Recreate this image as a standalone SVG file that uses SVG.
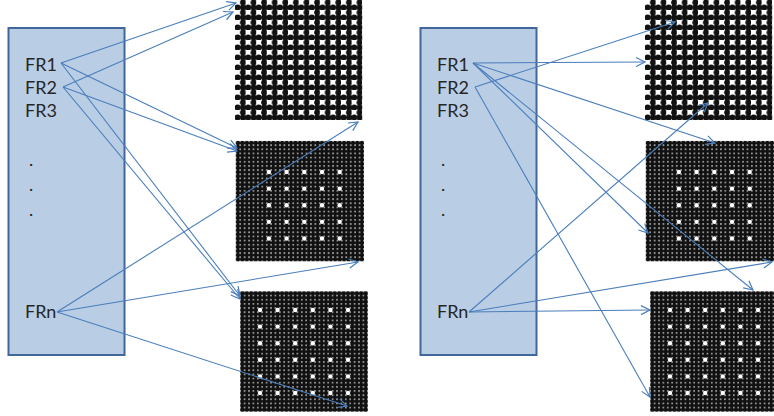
<svg xmlns="http://www.w3.org/2000/svg" xmlns:xlink="http://www.w3.org/1999/xlink" width="774" height="416" viewBox="0 0 774 416">
  <style>
    .box { fill: #b9cde5; stroke: #41679a; stroke-width: 2; }
    .lbl { font-family: Lato, "Liberation Sans", sans-serif; font-size: 18px; fill: #262626; }
    .conn line { stroke: #4a7ebb; stroke-width: 1.1; fill: none; marker-end: url(#arr); }
    .hole { fill: #ffffff; }
  </style>
  <defs>
    <marker id="arr" markerUnits="userSpaceOnUse" markerWidth="13" markerHeight="13" refX="10" refY="5.5" orient="auto" viewBox="0 0 13 11">
      <polyline points="1,1 10,5.5 1,10" fill="none" stroke="#4a7ebb" stroke-width="1.2"/>
    </marker>
    <!-- sparse grid: every other dot in every other row left out -->
    <pattern id="patA" patternUnits="userSpaceOnUse" x="235" y="0" width="10.6" height="10">
      <circle cx="7.95" cy="2.5" r="3.0" fill="#111"/>
      <circle cx="2.65" cy="7.5" r="3.0" fill="#111"/>
      <circle cx="7.95" cy="7.5" r="3.0" fill="#111"/>
      <circle cx="13.25" cy="2.5" r="3.0" fill="#111"/>
      <circle cx="2.65" cy="12.5" r="3.0" fill="#111"/>
      <circle cx="-2.65" cy="7.5" r="3.0" fill="#111"/>
      <circle cx="7.95" cy="-2.5" r="3.0" fill="#111"/>
    </pattern>
    <!-- dense grids -->
    <pattern id="patB" patternUnits="userSpaceOnUse" x="235.79" y="140.93" width="4.42" height="4.15">
      <circle cx="2.21" cy="2.075" r="2.3" fill="#111"/>
    </pattern>
    <pattern id="patC" patternUnits="userSpaceOnUse" x="240.2" y="291.33" width="4.4" height="4.15">
      <circle cx="2.2" cy="2.075" r="2.3" fill="#111"/>
    </pattern>
    <g id="gridA">
      <rect x="235" y="0" width="127.2" height="120" fill="url(#patA)"/>
    </g>
    <g id="gridB">
      <rect x="235.79" y="140.93" width="128.18" height="120.35" fill="url(#patB)"/>
      <g class="hole">
        <circle cx="268.9" cy="172.05" r="2.2"/><circle cx="286.6" cy="172.05" r="2.2"/><circle cx="304.3" cy="172.05" r="2.2"/><circle cx="322" cy="172.05" r="2.2"/><circle cx="339.7" cy="172.05" r="2.2"/>
        <circle cx="268.9" cy="188.65" r="2.2"/><circle cx="286.6" cy="188.65" r="2.2"/><circle cx="304.3" cy="188.65" r="2.2"/><circle cx="322" cy="188.65" r="2.2"/><circle cx="339.7" cy="188.65" r="2.2"/>
        <circle cx="268.9" cy="205.25" r="2.2"/><circle cx="286.6" cy="205.25" r="2.2"/><circle cx="304.3" cy="205.25" r="2.2"/><circle cx="322" cy="205.25" r="2.2"/><circle cx="339.7" cy="205.25" r="2.2"/>
        <circle cx="268.9" cy="221.85" r="2.2"/><circle cx="286.6" cy="221.85" r="2.2"/><circle cx="304.3" cy="221.85" r="2.2"/><circle cx="322" cy="221.85" r="2.2"/><circle cx="339.7" cy="221.85" r="2.2"/>
        <circle cx="268.9" cy="238.45" r="2.2"/><circle cx="286.6" cy="238.45" r="2.2"/><circle cx="304.3" cy="238.45" r="2.2"/><circle cx="322" cy="238.45" r="2.2"/><circle cx="339.7" cy="238.45" r="2.2"/>
      </g>
    </g>
    <g id="gridC">
      <rect x="240.2" y="291.33" width="127.6" height="120.35" fill="url(#patC)"/>
      <g class="hole">
        <circle cx="260" cy="310" r="2.2"/><circle cx="277.6" cy="310" r="2.2"/><circle cx="295.2" cy="310" r="2.2"/><circle cx="312.8" cy="310" r="2.2"/><circle cx="330.4" cy="310" r="2.2"/><circle cx="348" cy="310" r="2.2"/>
        <circle cx="260" cy="326.6" r="2.2"/><circle cx="277.6" cy="326.6" r="2.2"/><circle cx="295.2" cy="326.6" r="2.2"/><circle cx="312.8" cy="326.6" r="2.2"/><circle cx="330.4" cy="326.6" r="2.2"/><circle cx="348" cy="326.6" r="2.2"/>
        <circle cx="260" cy="343.2" r="2.2"/><circle cx="277.6" cy="343.2" r="2.2"/><circle cx="295.2" cy="343.2" r="2.2"/><circle cx="312.8" cy="343.2" r="2.2"/><circle cx="330.4" cy="343.2" r="2.2"/><circle cx="348" cy="343.2" r="2.2"/>
        <circle cx="260" cy="359.8" r="2.2"/><circle cx="277.6" cy="359.8" r="2.2"/><circle cx="295.2" cy="359.8" r="2.2"/><circle cx="312.8" cy="359.8" r="2.2"/><circle cx="330.4" cy="359.8" r="2.2"/><circle cx="348" cy="359.8" r="2.2"/>
        <circle cx="260" cy="376.4" r="2.2"/><circle cx="277.6" cy="376.4" r="2.2"/><circle cx="295.2" cy="376.4" r="2.2"/><circle cx="312.8" cy="376.4" r="2.2"/><circle cx="330.4" cy="376.4" r="2.2"/><circle cx="348" cy="376.4" r="2.2"/>
        <circle cx="260" cy="393" r="2.2"/><circle cx="277.6" cy="393" r="2.2"/><circle cx="295.2" cy="393" r="2.2"/><circle cx="312.8" cy="393" r="2.2"/><circle cx="330.4" cy="393" r="2.2"/><circle cx="348" cy="393" r="2.2"/>
      </g>
    </g>
  </defs>

  <rect width="774" height="416" fill="#ffffff"/>

  <!-- left mapping -->
  <g id="fr-left">
    <rect class="box" x="8.5" y="28" width="116" height="327"/>
    <text class="lbl" x="25" y="71">FR1</text>
    <text class="lbl" x="25" y="94">FR2</text>
    <text class="lbl" x="25" y="117">FR3</text>
    <text class="lbl" x="29" y="166">.</text>
    <text class="lbl" x="29" y="191">.</text>
    <text class="lbl" x="29" y="216">.</text>
    <text class="lbl" x="25" y="318">FRn</text>
  </g>
  <g id="grid-left-1"><use xlink:href="#gridA"/></g>
  <g id="grid-left-2"><use xlink:href="#gridB"/></g>
  <g id="grid-left-3"><use xlink:href="#gridC"/></g>

  <!-- right mapping -->
  <g id="fr-right">
    <rect class="box" x="420.5" y="28" width="116" height="327"/>
    <text class="lbl" x="437" y="71">FR1</text>
    <text class="lbl" x="437" y="94">FR2</text>
    <text class="lbl" x="437" y="117">FR3</text>
    <text class="lbl" x="441" y="166">.</text>
    <text class="lbl" x="441" y="191">.</text>
    <text class="lbl" x="441" y="216">.</text>
    <text class="lbl" x="437" y="318">FRn</text>
  </g>
  <g id="grid-right-1"><use xlink:href="#gridA" x="410"/></g>
  <g id="grid-right-2"><use xlink:href="#gridB" x="410"/></g>
  <g id="grid-right-3"><use xlink:href="#gridC" x="410"/></g>

  <g id="connectors" class="conn">
    <!-- left -->
    <line x1="61" y1="63" x2="236" y2="3"/>
    <line x1="63" y1="87" x2="233" y2="12"/>
    <line x1="61" y1="63" x2="237" y2="148"/>
    <line x1="63" y1="87" x2="237" y2="151"/>
    <line x1="61" y1="63" x2="240" y2="296"/>
    <line x1="63" y1="87" x2="240" y2="299"/>
    <line x1="57" y1="312" x2="358" y2="122"/>
    <line x1="57" y1="312" x2="358" y2="262"/>
    <line x1="57" y1="312" x2="347" y2="406"/>
    <!-- right -->
    <line x1="473" y1="63" x2="645" y2="62"/>
    <line x1="475" y1="87" x2="675" y2="22"/>
    <line x1="473" y1="63" x2="715" y2="143"/>
    <line x1="473" y1="63" x2="648" y2="233"/>
    <line x1="473" y1="63" x2="753" y2="290"/>
    <line x1="475" y1="87" x2="650" y2="397"/>
    <line x1="469" y1="312" x2="708" y2="103"/>
    <line x1="469" y1="312" x2="772" y2="262"/>
    <line x1="469" y1="312" x2="650" y2="310"/>
  </g>
</svg>
